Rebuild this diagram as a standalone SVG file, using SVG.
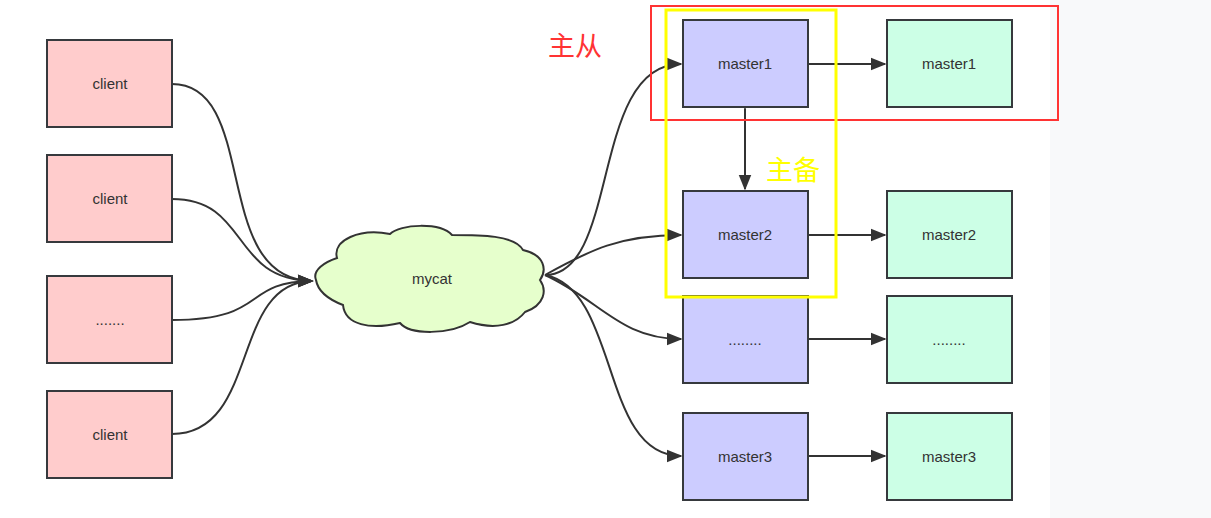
<svg xmlns="http://www.w3.org/2000/svg" width="1211" height="518" viewBox="0 0 1211 518">
<style>
.c{fill:#ffcccc;stroke:#36393d;stroke-width:2}
.m{fill:#ccccff;stroke:#36393d;stroke-width:2}
.s{fill:#ccffe6;stroke:#36393d;stroke-width:2}
text{font-family:"Liberation Sans",Arial,sans-serif;font-size:15px;fill:#333;text-anchor:middle}
.e{fill:none;stroke:#333;stroke-width:2}
</style>
<defs><marker id="a" viewBox="0 0 10 10" refX="9" refY="5" markerWidth="8" markerHeight="8" orient="auto-start-reverse" markerUnits="userSpaceOnUse"><path d="M0,1L10,5L0,9Z" fill="#333"/></marker>
<marker id="b" viewBox="0 0 10 10" refX="9" refY="5" markerWidth="16" markerHeight="16" orient="auto" markerUnits="userSpaceOnUse"><path d="M0,1L10,5L0,9Z" fill="#333"/></marker></defs>
<rect width="1211" height="518" fill="#fff"/>
<rect x="1050" y="0" width="161" height="518" fill="#f8f9fa"/>
<g id="connectors">
<path class="e" marker-end="url(#b)" d="M172,84C260,84 210,280 312,281"/>
<path class="e" marker-end="url(#b)" d="M172,199C250,199 230,280 312,281"/>
<path class="e" marker-end="url(#b)" d="M172,320C270,320 240,282 312,281"/>
<path class="e" marker-end="url(#b)" d="M172,434C260,434 230,282 312,281"/>
<path class="e" marker-end="url(#b)" d="M545,275C620,275 590,64 681,64" style="marker-end:url(#b)"/>
<path class="e" marker-end="url(#b)" d="M545,275C590,250 620,235 681,235"/>
<path class="e" marker-end="url(#b)" d="M545,275C600,300 620,339 681,339"/>
<path class="e" marker-end="url(#b)" d="M545,275C620,290 600,456 681,456"/>
<path class="e" marker-end="url(#b)" d="M808,64H885"/>
<path class="e" marker-end="url(#b)" d="M808,235H885"/>
<path class="e" marker-end="url(#b)" d="M808,339H885"/>
<path class="e" marker-end="url(#b)" d="M808,456H885"/>
<path class="e" marker-start="url(#b)" marker-end="url(#b)" d="M745,109V189"/>
</g>
<g id="client1"><rect class="c" x="47" y="40" width="125" height="87"/><text x="110" y="89">client</text></g>
<g id="client2"><rect class="c" x="47" y="155" width="125" height="87"/><text x="110" y="204">client</text></g>
<g id="client3"><rect class="c" x="47" y="276" width="125" height="87"/><text x="110" y="325">.......</text></g>
<g id="client4"><rect class="c" x="47" y="391" width="125" height="87"/><text x="110" y="440">client</text></g>
<g id="mycat"><path fill="#e6ffcc" stroke="#333" stroke-width="2" d="M316,280C312,270 325,262 337,258C332,240 360,228 390,234C400,224 440,222 452,235C480,235 515,235 523,250C545,255 547,270 540,280C547,290 545,305 525,312C515,325 495,330 470,322C450,335 410,335 400,323C370,330 345,325 343,305C330,300 318,292 316,280Z"/><text x="432" y="284">mycat</text></g>
<g id="m1"><rect class="m" x="683" y="20" width="125" height="87"/><text x="745" y="69">master1</text></g>
<g id="m2"><rect class="m" x="683" y="191" width="125" height="87"/><text x="745" y="240">master2</text></g>
<g id="m3"><rect class="m" x="683" y="296" width="125" height="87"/><text x="745" y="345">........</text></g>
<g id="m4"><rect class="m" x="683" y="413" width="125" height="87"/><text x="745" y="462">master3</text></g>
<g id="s1"><rect class="s" x="887" y="20" width="125" height="87"/><text x="949" y="69">master1</text></g>
<g id="s2"><rect class="s" x="887" y="191" width="125" height="87"/><text x="949" y="240">master2</text></g>
<g id="s3"><rect class="s" x="887" y="296" width="125" height="87"/><text x="949" y="345">........</text></g>
<g id="s4"><rect class="s" x="887" y="413" width="125" height="87"/><text x="949" y="462">master3</text></g>
<rect x="651" y="6" width="407" height="114" fill="none" stroke="#f33" stroke-width="2"/>
<rect x="666" y="10" width="170" height="287" fill="none" stroke="#ff0" stroke-width="3"/>
<text x="575" y="56" style="font-family:'Noto Sans CJK SC',sans-serif;font-size:27px;fill:#f33">主从</text>
<text x="793" y="180" style="font-family:'Noto Sans CJK SC',sans-serif;font-size:27px;fill:#ff0">主备</text>
</svg>
